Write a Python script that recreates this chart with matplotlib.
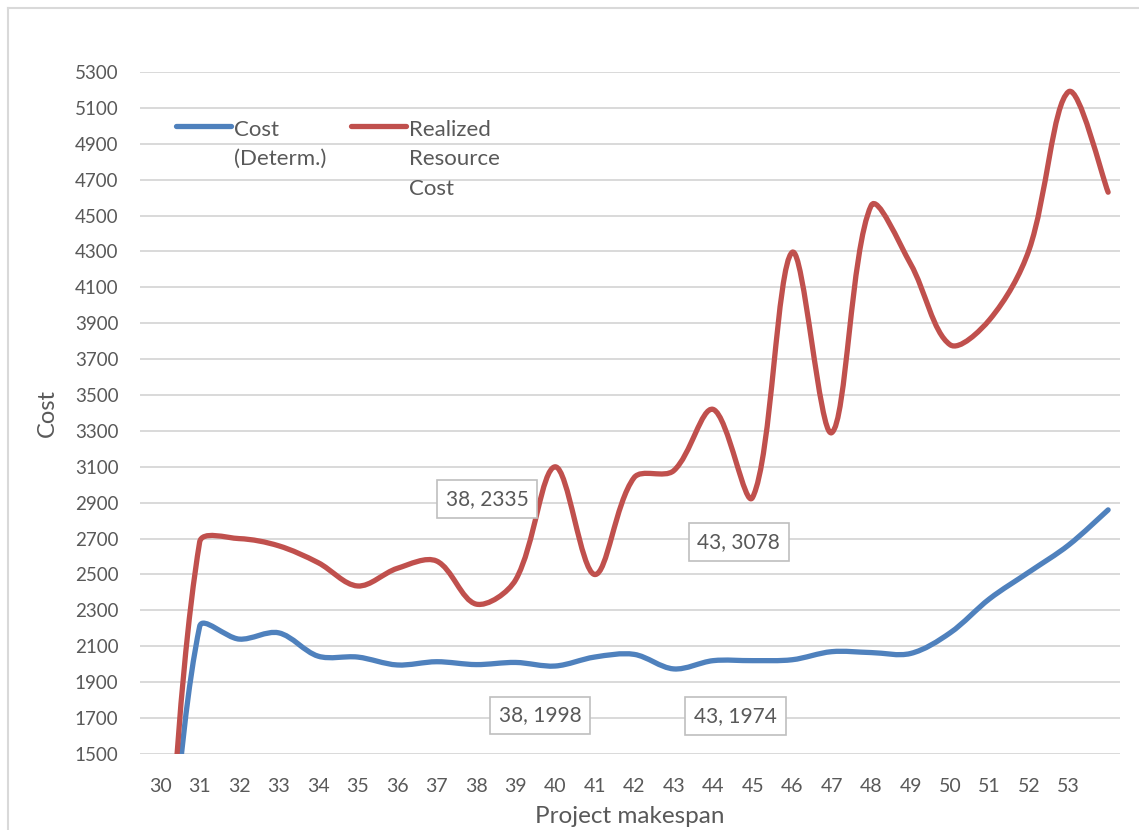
import numpy as np
import matplotlib
matplotlib.use("Agg")
import matplotlib.pyplot as plt
from matplotlib.path import Path
from matplotlib.patches import PathPatch
from matplotlib.lines import Line2D
from matplotlib.legend_handler import HandlerLine2D

plt.rcParams["font.family"] = ["Lato", "DejaVu Sans"]

makespan = list(range(30, 55))
cost_determ = [0, 2210, 2140, 2175, 2045, 2040, 1996, 2014, 1998, 2010,
               1990, 2040, 2055, 1974, 2020, 2020, 2025, 2070, 2065, 2060,
               2175, 2365, 2514, 2664, 2860]
realized_cost = [0, 2680, 2700, 2660, 2566, 2436, 2534, 2575, 2335, 2470,
                 3100, 2500, 3040, 3078, 3420, 2930, 4295, 3290, 4555, 4230,
                 3780, 3920, 4310, 5190, 4630]
tick_labels = [str(v) for v in range(30, 54)]

# (series, makespan) pairs that get a value label
labelled = [("realized", 38), ("determ", 38), ("realized", 43), ("determ", 43)]

BLUE = "#4f81bd"
RED = "#c0504d"
TEXT = "#595959"
GRID = "#d9d9d9"


def smooth_path(ax, x, y, tension=1 / 6):
    # cubic bezier through every point; handle lengths are scaled by the
    # on-screen segment lengths so a long jump doesn't overshoot its neighbours
    pts = np.column_stack([np.asarray(x, float), np.asarray(y, float)])
    pix = ax.transData.transform(pts)
    seg = np.hypot(*np.diff(pix, axis=0).T)
    n = len(pts)
    verts = [pts[0]]
    codes = [Path.MOVETO]
    for i in range(n - 1):
        a, d = max(i - 1, 0), min(i + 2, n - 1)
        t1 = (pts[i + 1] - pts[a]) * tension
        t2 = (pts[d] - pts[i]) * tension
        if i > 0:
            t1 *= 2 * seg[i] / (seg[i - 1] + seg[i])
        if i + 1 < n - 1:
            t2 *= 2 * seg[i] / (seg[i] + seg[i + 1])
        verts += [pts[i] + t1, pts[i + 1] - t2, pts[i + 1]]
        codes += [Path.CURVE4] * 3
    return Path(verts, codes)


class LiftedLine(HandlerLine2D):
    # legend key drawn level with the first line of a wrapped label
    def __init__(self, lift, **kw):
        super().__init__(**kw)
        self.lift = lift

    def create_artists(self, legend, orig_handle, xdescent, ydescent,
                       width, height, fontsize, trans):
        artists = super().create_artists(legend, orig_handle, xdescent, ydescent,
                                         width, height, fontsize, trans)
        for a in artists:
            a.set_ydata(np.asarray(a.get_ydata(), float) + self.lift * fontsize)
        return artists


fig = plt.figure(figsize=(11.39, 8.30), dpi=100)
ax = fig.add_axes([0.1229, 0.0916, 0.8604, 0.8217])
ax.set_xlim(29.49, 54.3)
ax.set_ylim(1500, 5300)

series = {"determ": (cost_determ, BLUE), "realized": (realized_cost, RED)}
for key in ["determ", "realized"]:
    vals, col = series[key]
    ax.add_patch(PathPatch(smooth_path(ax, makespan, vals), fill=False,
                           edgecolor=col, lw=3.8, capstyle="round",
                           joinstyle="round", zorder=3))

ax.set_yticks(np.arange(1500, 5301, 200))
ax.set_xticks(makespan[:-1])
ax.set_xticklabels(tick_labels)
ax.tick_params(axis="both", length=0, colors=TEXT)
ax.tick_params(axis="y", labelsize=13.5, pad=15.5)
ax.tick_params(axis="x", labelsize=14, pad=17.5)
ax.yaxis.grid(True, color=GRID, lw=1.4)
ax.set_axisbelow(True)
for s in ax.spines.values():
    s.set_visible(False)

ax.set_xlabel("Project makespan", fontsize=17.5, color=TEXT, labelpad=8)
ax.set_ylabel("Cost", fontsize=17, color=TEXT, labelpad=12)

offsets = {("realized", 38): (11, 105), ("determ", 38): (64, -51),
           ("realized", 43): (65, -71), ("determ", 43): (62, -47)}
for key, x in labelled:
    vals = series[key][0]
    y = vals[makespan.index(x)]
    ax.annotate(f"{x}, {y}", xy=(x, y), xytext=offsets[(key, x)],
                textcoords="offset pixels", ha="center", va="center",
                fontsize=15, color=TEXT, zorder=5,
                bbox=dict(boxstyle="square,pad=0.42", fc="white",
                          ec="#bfbfbf", lw=1.2))

h_det = Line2D([], [], color=BLUE, lw=3.8, solid_capstyle="round")
h_real = Line2D([], [], color=RED, lw=3.8, solid_capstyle="round")
leg = ax.legend([h_det, h_real], ["Cost\n(Determ.)\n", "Realized\nResource\nCost"],
                ncol=2, loc="upper left", bbox_to_anchor=(0.037, 0.930),
                frameon=False, fontsize=16, handlelength=2.48,
                handletextpad=0.13, columnspacing=1.1, borderpad=0,
                borderaxespad=0,
                handler_map={h_det: LiftedLine(1.53), h_real: LiftedLine(1.53)})
for t in leg.get_texts():
    t.set_color(TEXT)
    t.set_linespacing(1.6)

# outer chart border
fig.add_artist(Line2D([0.007, 1.0], [0.99, 0.99], color=GRID, lw=1.5,
                      transform=fig.transFigure))
fig.add_artist(Line2D([0.007, 0.007], [0.0, 0.99], color=GRID, lw=1.5,
                      transform=fig.transFigure))

fig.savefig("out.png", dpi=100)
